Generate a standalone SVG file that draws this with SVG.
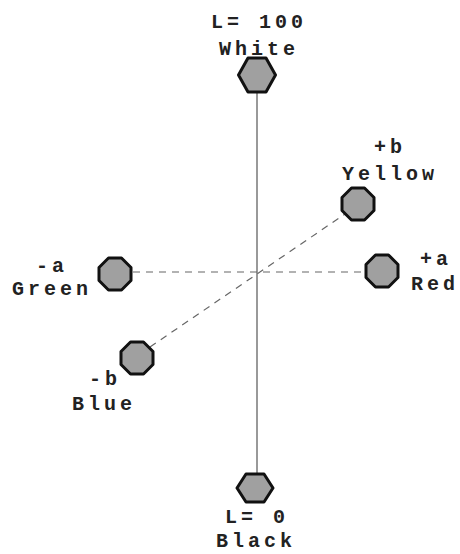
<svg xmlns="http://www.w3.org/2000/svg" width="460" height="554" viewBox="0 0 460 554">
<style>
.lbl{font-family:"Liberation Mono","DejaVu Sans Mono",monospace;font-weight:bold;font-size:20px;letter-spacing:4px;fill:#222;text-anchor:middle}
.shape{fill:#a0a0a0;stroke:#111;stroke-width:3;stroke-linejoin:round}
.axis{stroke:#555;stroke-width:1.2;fill:none}
.dash{stroke:#666;stroke-width:1.2;stroke-dasharray:7 6;fill:none}
</style>
<defs>
<polygon id="oct" points="-6.5,-16 6.5,-16 16,-6.5 16,6.5 6.5,16 -6.5,16 -16,6.5 -16,-6.5"/>
</defs>
<rect width="460" height="554" fill="#fff"/>
<g id="connectors">
<line class="axis" x1="257" y1="93" x2="257" y2="473"/>
<line class="dash" x1="133" y1="272" x2="366" y2="272"/>
<line class="dash" x1="150" y1="347" x2="345" y2="214"/>
</g>
<g id="white">
<polygon class="shape" points="238.5,75 248,58 266,58 275.5,75 266,92 248,92"/>
<text class="lbl" x="259" y="28">L= 100</text>
<text class="lbl" x="259" y="55">White</text>
</g>
<g id="black">
<polygon class="shape" points="237,488 246,474 264,474 273,488 264,502 246,502"/>
<text class="lbl" x="257" y="523">L= 0</text>
<text class="lbl" x="256" y="547">Black</text>
</g>
<g id="yellow">
<use href="#oct" class="shape" x="358" y="204"/>
<text class="lbl" x="390" y="153">+b</text>
<text class="lbl" x="390" y="180">Yellow</text>
</g>
<g id="green">
<use href="#oct" class="shape" x="115" y="274"/>
<text class="lbl" x="52" y="272">-a</text>
<text class="lbl" x="52" y="295">Green</text>
</g>
<g id="red">
<use href="#oct" class="shape" x="382" y="271"/>
<text class="lbl" x="436" y="265">+a</text>
<text class="lbl" x="435" y="290">Red</text>
</g>
<g id="blue">
<use href="#oct" class="shape" x="137" y="358"/>
<text class="lbl" x="105" y="385">-b</text>
<text class="lbl" x="104" y="410">Blue</text>
</g>
</svg>
